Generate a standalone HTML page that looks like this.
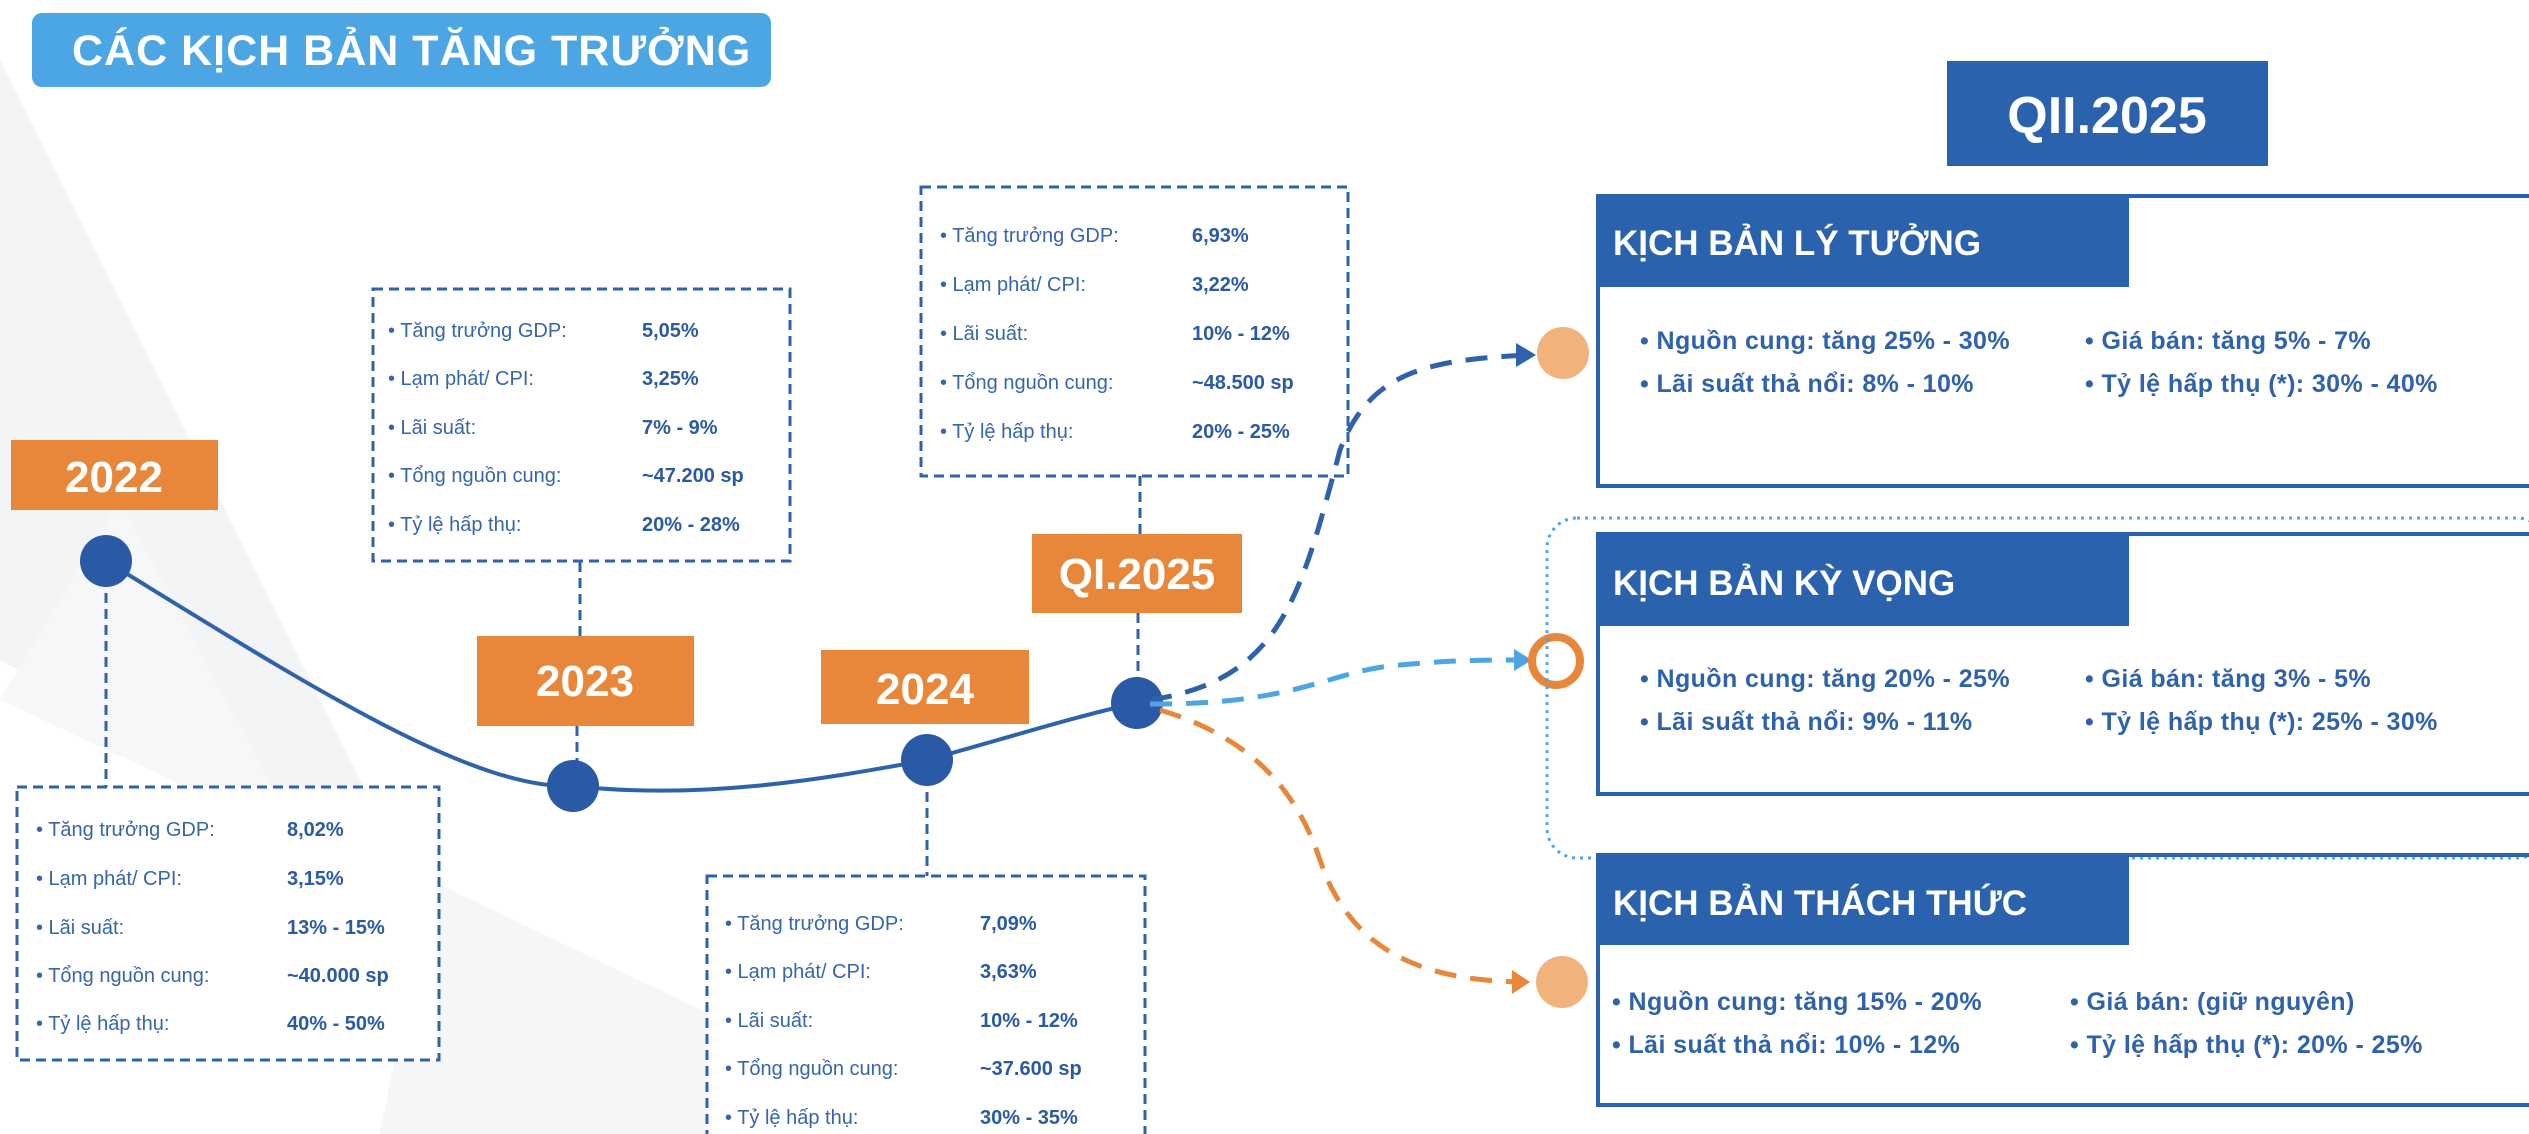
<!DOCTYPE html>
<html><head><meta charset="utf-8"><style>
html,body{margin:0;padding:0;background:#fff;}
svg{display:block;font-family:"Liberation Sans","DejaVu Sans",sans-serif;}
.l{fill:#3565ad;font-size:20px;}
.v{fill:#2a5aa6;font-size:20px;font-weight:bold;}
.s{fill:#2f62ad;font-size:25px;font-weight:bold;letter-spacing:0.4px;}
.h{fill:#fff;font-size:35px;font-weight:bold;}
.y{fill:#fff;font-size:44px;font-weight:bold;text-anchor:middle;}
.box{fill:#fff;stroke:#2f62ad;stroke-width:3;stroke-dasharray:10 6;}
.dl{stroke:#2f62ad;stroke-width:3;stroke-dasharray:10 6;fill:none;}
</style></head><body>
<svg width="2529" height="1134" viewBox="0 0 2529 1134">
<polygon points="0,60 0,660 420,900" fill="#f3f4f6"/>
<polygon points="430,880 960,1134 380,1134" fill="#f5f6f8"/>
<polygon points="0,700 120,500 300,840" fill="#f6f7f9"/>
<rect x="32" y="13" width="739" height="74" rx="10" fill="#4ba6e3"/>
<text x="72" y="65" fill="#fff" font-size="43" font-weight="bold" letter-spacing="1">CÁC KỊCH BẢN TĂNG TRƯỞNG</text>

<path class="dl" d="M106 561 V787"/>
<path class="dl" d="M580 562 V636 M577 726 V786"/>
<path class="dl" d="M927 760 V876"/>
<path class="dl" d="M1140 476 V534 M1138 613 V703"/>

<rect class="box" x="17" y="787" width="422" height="273"/>
<rect class="box" x="373" y="289" width="417" height="272"/>
<rect class="box" x="707" y="876" width="438" height="270"/>
<rect class="box" x="921" y="187" width="427" height="289"/>

<path d="M106 561 C 300 680, 470 790, 573 786 C 700 800, 820 780, 927 760 C 1000 740, 1080 715, 1137 703" fill="none" stroke="#2f62ad" stroke-width="4"/>
<circle cx="106" cy="561" r="26" fill="#2a5aa6"/>
<circle cx="573" cy="786" r="26" fill="#2a5aa6"/>
<circle cx="927" cy="760" r="26" fill="#2a5aa6"/>
<circle cx="1137" cy="703" r="26" fill="#2a5aa6"/>

<rect x="11" y="440" width="207" height="70" fill="#e8873a"/><text class="y" x="114" y="492">2022</text>
<rect x="477" y="636" width="217" height="90" fill="#e8873a"/><text class="y" x="585" y="696">2023</text>
<rect x="821" y="650" width="208" height="74" fill="#e8873a"/><text class="y" x="925" y="704">2024</text>
<rect x="1032" y="534" width="210" height="79" fill="#e8873a"/><text class="y" x="1137" y="589">QI.2025</text>

<g>
<text class="l" x="36" y="836">•  Tăng trưởng GDP:</text><text class="v" x="287" y="836">8,02%</text>
<text class="l" x="36" y="885">•  Lạm phát/ CPI:</text><text class="v" x="287" y="885">3,15%</text>
<text class="l" x="36" y="934">•  Lãi suất:</text><text class="v" x="287" y="934">13% - 15%</text>
<text class="l" x="36" y="982">•  Tổng nguồn cung:</text><text class="v" x="287" y="982">~40.000 sp</text>
<text class="l" x="36" y="1030">•  Tỷ lệ hấp thụ:</text><text class="v" x="287" y="1030">40% - 50%</text>
</g>
<g>
<text class="l" x="388" y="337">•  Tăng trưởng GDP:</text><text class="v" x="642" y="337">5,05%</text>
<text class="l" x="388" y="385">•  Lạm phát/ CPI:</text><text class="v" x="642" y="385">3,25%</text>
<text class="l" x="388" y="434">•  Lãi suất:</text><text class="v" x="642" y="434">7% - 9%</text>
<text class="l" x="388" y="482">•  Tổng nguồn cung:</text><text class="v" x="642" y="482">~47.200 sp</text>
<text class="l" x="388" y="531">•  Tỷ lệ hấp thụ:</text><text class="v" x="642" y="531">20% - 28%</text>
</g>
<g>
<text class="l" x="725" y="930">•  Tăng trưởng GDP:</text><text class="v" x="980" y="930">7,09%</text>
<text class="l" x="725" y="978">•  Lạm phát/ CPI:</text><text class="v" x="980" y="978">3,63%</text>
<text class="l" x="725" y="1027">•  Lãi suất:</text><text class="v" x="980" y="1027">10% - 12%</text>
<text class="l" x="725" y="1075">•  Tổng nguồn cung:</text><text class="v" x="980" y="1075">~37.600 sp</text>
<text class="l" x="725" y="1124">•  Tỷ lệ hấp thụ:</text><text class="v" x="980" y="1124">30% - 35%</text>
</g>
<g>
<text class="l" x="940" y="242">•  Tăng trưởng GDP:</text><text class="v" x="1192" y="242">6,93%</text>
<text class="l" x="940" y="291">•  Lạm phát/ CPI:</text><text class="v" x="1192" y="291">3,22%</text>
<text class="l" x="940" y="340">•  Lãi suất:</text><text class="v" x="1192" y="340">10% - 12%</text>
<text class="l" x="940" y="389">•  Tổng nguồn cung:</text><text class="v" x="1192" y="389">~48.500 sp</text>
<text class="l" x="940" y="438">•  Tỷ lệ hấp thụ:</text><text class="v" x="1192" y="438">20% - 25%</text>
</g>

<path d="M1150 700 C 1280 680, 1300 600, 1340 450 C 1370 370, 1430 360, 1528 355" fill="none" stroke="#2f62ad" stroke-width="5" stroke-dasharray="22 14"/>
<polygon points="1536,355 1516,343 1516,367" fill="#2f62ad"/>
<path d="M1150 704 C 1300 705, 1330 670, 1400 665 C 1450 660, 1490 660, 1522 660" fill="none" stroke="#4ba6e3" stroke-width="5" stroke-dasharray="22 14"/>
<polygon points="1532,660 1514,649 1514,671" fill="#4ba6e3"/>
<path d="M1160 710 C 1260 740, 1300 800, 1320 860 C 1350 950, 1420 980, 1520 982" fill="none" stroke="#e8873a" stroke-width="5" stroke-dasharray="22 14"/>
<polygon points="1530,982 1512,970 1512,994" fill="#e8873a"/>
<circle cx="1563" cy="353" r="26" fill="#f2b27c"/>
<circle cx="1556" cy="661" r="24" fill="#fff" stroke="#e8873a" stroke-width="8"/>
<circle cx="1562" cy="982" r="26" fill="#f2b27c"/>

<rect x="1947" y="61" width="321" height="105" fill="#2a62ad"/>
<text x="2107" y="133" fill="#fff" font-size="52" font-weight="bold" text-anchor="middle">QII.2025</text>

<rect x="1547" y="518" width="1000" height="340" rx="30" fill="none" stroke="#4ba6e3" stroke-width="3" stroke-dasharray="3 5"/>

<rect x="1598" y="196" width="950" height="290" fill="none" stroke="#2a62ad" stroke-width="4"/>
<rect x="1597" y="195" width="532" height="92" fill="#2a62ad"/>
<text class="h" x="1613" y="255">KỊCH BẢN LÝ TƯỞNG</text>
<text class="s" x="1640" y="349">•  Nguồn cung: tăng 25% - 30%</text>
<text class="s" x="2085" y="349">•  Giá bán: tăng 5% - 7%</text>
<text class="s" x="1640" y="392">•  Lãi suất thả nổi: 8% - 10%</text>
<text class="s" x="2085" y="392">•  Tỷ lệ hấp thụ (*): 30% - 40%</text>

<rect x="1598" y="534" width="950" height="260" fill="none" stroke="#2a62ad" stroke-width="4"/>
<rect x="1597" y="534" width="532" height="92" fill="#2a62ad"/>
<text class="h" x="1613" y="595">KỊCH BẢN KỲ VỌNG</text>
<text class="s" x="1640" y="687">•  Nguồn cung: tăng 20% - 25%</text>
<text class="s" x="2085" y="687">•  Giá bán: tăng 3% - 5%</text>
<text class="s" x="1640" y="730">•  Lãi suất thả nổi: 9% - 11%</text>
<text class="s" x="2085" y="730">•  Tỷ lệ hấp thụ (*): 25% - 30%</text>

<rect x="1598" y="855" width="950" height="250" fill="none" stroke="#2a62ad" stroke-width="4"/>
<rect x="1597" y="855" width="532" height="90" fill="#2a62ad"/>
<text class="h" x="1613" y="915">KỊCH BẢN THÁCH THỨC</text>
<text class="s" x="1612" y="1010">•  Nguồn cung: tăng 15% - 20%</text>
<text class="s" x="2070" y="1010">•  Giá bán: (giữ nguyên)</text>
<text class="s" x="1612" y="1053">•  Lãi suất thả nổi: 10% - 12%</text>
<text class="s" x="2070" y="1053">•  Tỷ lệ hấp thụ (*): 20% - 25%</text>
</svg>
</body></html>
